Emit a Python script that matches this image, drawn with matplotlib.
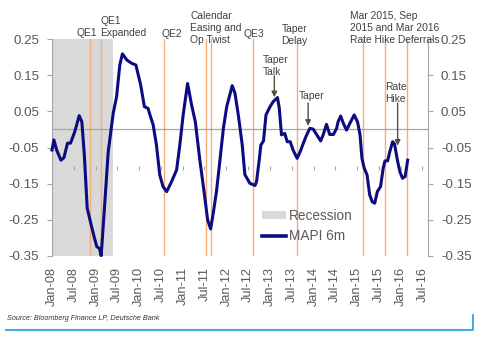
import matplotlib
matplotlib.use("Agg")
import matplotlib.pyplot as plt
import matplotlib.dates as mdates
from matplotlib.patches import Patch
from matplotlib.lines import Line2D
import pandas as pd

plt.rcParams['font.family'] = ['Liberation Sans', 'DejaVu Sans']

# MAPI 6m series
mapi_dates = [
    "2008-01-01", "2008-01-17", "2008-02-09", "2008-03-16", "2008-04-10", "2008-05-10",
    "2008-06-04", "2008-07-10", "2008-08-16", "2008-09-07", "2008-09-28", "2008-10-22",
    "2008-11-28", "2008-12-19", "2009-01-10", "2009-02-01", "2009-02-16", "2009-03-19",
    "2009-04-16", "2009-05-28", "2009-06-25", "2009-07-22", "2009-08-13", "2009-09-19",
    "2009-10-28", "2009-12-04", "2010-01-13", "2010-02-13", "2010-03-16", "2010-04-01",
    "2010-04-28", "2010-05-25", "2010-06-22", "2010-07-19", "2010-08-19", "2010-09-28",
    "2010-11-10", "2010-12-07", "2011-01-04", "2011-02-10", "2011-03-16", "2011-04-16",
    "2011-05-22", "2011-06-28", "2011-07-28", "2011-08-22", "2011-09-13", "2011-10-10",
    "2011-11-07", "2011-12-07", "2012-01-04", "2012-02-19", "2012-03-13", "2012-04-10",
    "2012-05-13", "2012-06-04", "2012-07-16", "2012-08-28", "2012-09-10", "2012-10-04",
    "2012-10-16", "2012-11-07", "2012-11-28", "2013-01-01", "2013-01-28", "2013-03-04",
    "2013-03-19", "2013-04-07", "2013-05-04", "2013-05-25", "2013-06-19", "2013-07-13",
    "2013-08-16", "2013-09-10", "2013-10-07", "2013-11-04", "2013-12-01", "2013-12-28",
    "2014-01-28", "2014-03-01", "2014-03-22", "2014-04-19", "2014-05-16", "2014-06-16",
    "2014-07-13", "2014-07-25", "2014-08-16", "2014-09-07", "2014-10-04", "2014-11-01",
    "2014-12-07", "2015-01-04", "2015-01-25", "2015-02-10", "2015-03-01", "2015-03-25",
    "2015-04-16", "2015-05-07", "2015-05-28", "2015-06-19", "2015-07-16", "2015-08-07",
    "2015-08-22", "2015-09-13", "2015-10-01", "2015-10-25", "2015-11-10", "2015-12-04",
    "2015-12-25", "2016-01-16", "2016-02-07", "2016-02-28",
]
mapi_values = [
    -0.057, -0.029, -0.057, -0.085, -0.078, -0.038,
    -0.038, -0.006, 0.038, 0.021, -0.071, -0.218,
    -0.269, -0.297, -0.324, -0.329, -0.349, -0.200,
    -0.062, 0.045, 0.090, 0.178, 0.209, 0.192,
    0.183, 0.178, 0.123, 0.063, 0.058, 0.040,
    0.012, -0.043, -0.126, -0.158, -0.172, -0.145,
    -0.112, -0.043, 0.040, 0.127, 0.067, 0.021,
    -0.080, -0.172, -0.250, -0.275, -0.232, -0.172,
    -0.089, 0.003, 0.063, 0.121, 0.100, 0.040,
    -0.043, -0.125, -0.149, -0.155, -0.144, -0.080,
    -0.043, -0.032, 0.040, 0.063, 0.077, 0.088,
    0.060, -0.015, -0.011, -0.034, -0.034, -0.057,
    -0.080, -0.062, -0.038, -0.015, 0.003, 0.001,
    -0.015, -0.032, -0.015, 0.014, -0.014, -0.014,
    0.003, 0.021, 0.037, 0.017, -0.002, 0.017,
    0.040, 0.021, -0.015, -0.080, -0.107, -0.126,
    -0.181, -0.200, -0.204, -0.172, -0.158, -0.107,
    -0.087, -0.087, -0.062, -0.034, -0.040, -0.085,
    -0.117, -0.135, -0.130, -0.085,
]

# Policy event lines
event_dates = ["2008-11-16", "2009-02-16", "2010-07-25", "2011-07-13", "2011-08-22",
               "2012-08-13", "2013-08-16", "2015-02-22", "2015-08-22", "2016-02-19"]

recession = ("2007-12-01", "2009-05-25")

# Labels above the plot: text, left-edge date, top (axes fraction)
top_labels = [
    ("QE1", "2008-07-25", 1.049),
    ("QE1\nExpanded", "2009-02-07", 1.107),
    ("QE2", "2010-07-10", 1.046),
    ("Calendar\nEasing and\nOp Twist", "2011-03-06", 1.129),
    ("QE3", "2012-05-26", 1.045),
    ("Taper\nDelay", "2013-04-07", 1.069),
    ("Mar 2015, Sep\n2015 and Mar 2016\nRate Hike Deferrals", "2014-11-01", 1.129),
]

# Arrow callouts: text, text date, text top value, arrow date, arrow start, arrow end
callouts = [
    ("Taper\nTalk", "2012-11-01", 0.206, "2013-02-06", 0.148, 0.089),
    ("Taper", "2013-09-03", 0.107, "2013-11-16", 0.073, 0.010),
    ("Rate\nHike", "2015-08-22", 0.132, "2015-12-06", 0.073, -0.045),
]

yticks = [0.25, 0.15, 0.05, -0.05, -0.15, -0.25, -0.35]
x_start, x_end = "2008-01-01", "2016-08-19"

W, H = 488, 341
fig = plt.figure(figsize=(W / 100, H / 100), dpi=100)
ax = fig.add_axes([52 / W, 1 - 256 / H, (428.3 - 52) / W, 217 / H])

grey_txt = "#595959"
note_c = "#404040"
spine_c = "#a6a6a6"
note_size = 7.4
note_spacing = 1.27

ax.axvspan(pd.Timestamp(recession[0]), pd.Timestamp(recession[1]),
           color="#d9d9d9", lw=0, zorder=0)
for d in event_dates:
    ax.axvline(pd.Timestamp(d), color="#f4ad78", lw=1.0, zorder=1)

# Zero line
ax.axhline(0, color=spine_c, lw=0.9, zorder=1.5)

ax.plot(pd.to_datetime(mapi_dates), mapi_values, color="#0c0c80", lw=2.2,
        zorder=3, solid_joinstyle="round", clip_on=False)

ax.set_xlim(pd.Timestamp(x_start), pd.Timestamp(x_end))
ax.set_ylim(-0.35, 0.25)

ax.set_yticks(yticks)
ax.yaxis.set_major_formatter(plt.FuncFormatter(lambda v, p: f"{v:.2f}"))
ax.tick_params(axis="y", which="both", left=True, right=True, labelleft=True,
               labelright=True, direction="out", length=3.6, width=0.8,
               color=spine_c, labelsize=9.6, labelcolor=grey_txt, pad=5.5)

xt = pd.date_range("2008-01-01", "2016-07-01", freq="6MS")
ax.set_xticks(xt)
ax.xaxis.set_major_formatter(mdates.DateFormatter("%b-%y"))
ax.tick_params(axis="x", length=0, labelsize=9.2, labelcolor=grey_txt,
               labelrotation=90, pad=8)

for s in ("top", "bottom"):
    ax.spines[s].set_visible(False)
for s in ("left", "right"):
    ax.spines[s].set_color(spine_c)
    ax.spines[s].set_linewidth(0.8)

# Half-year ticks hanging from the zero line
zax = ax.secondary_xaxis(0.25 / 0.6)
zax.set_xticks(xt)
zax.tick_params(axis="x", direction="out", length=3, width=0.8, color=spine_c,
                labelbottom=False, labeltop=False)
for s in zax.spines.values():
    s.set_visible(False)

xtrans = ax.get_xaxis_transform()
for txt, d, y in top_labels:
    ax.text(pd.Timestamp(d), y, txt, transform=xtrans, ha="left", va="top",
            fontsize=note_size, color=note_c, linespacing=note_spacing,
            clip_on=False)

for txt, d, ytop, ad, a0, a1 in callouts:
    ax.text(pd.Timestamp(d), ytop, txt, ha="left", va="top", fontsize=note_size,
            color=note_c, linespacing=note_spacing, zorder=4)
    ax.annotate("", xy=(pd.Timestamp(ad), a1), xytext=(pd.Timestamp(ad), a0),
                arrowprops=dict(arrowstyle="-|>", color="#505040", lw=1.0,
                                mutation_scale=8, shrinkA=0, shrinkB=0),
                zorder=4)

handles = [Patch(facecolor="#d9d9d9", edgecolor="none"),
           Line2D([], [], color="#0c0c80", lw=2.6)]
ax.legend(handles, ["Recession", "MAPI 6m"], loc="center left",
          bbox_to_anchor=(261.7 / W, 1 - 226 / H), bbox_transform=fig.transFigure,
          frameon=False, fontsize=9.8, labelcolor=grey_txt, handlelength=1.79,
          handleheight=0.6, handletextpad=0.24, labelspacing=0.45,
          borderpad=0, borderaxespad=0)

fig.text(6.7 / W, 1 - 319 / H, "Source: Bloomberg Finance LP, Deutsche Bank",
         fontsize=5.2, style="italic", color="#333333", va="center", ha="left")

rule_c = "#2ba6de"
fig.add_artist(Line2D([6 / W, 473 / W, 473 / W],
                      [1 - 330 / H, 1 - 330 / H, 1 - 315 / H],
                      transform=fig.transFigure, color=rule_c, lw=1.3))

fig.savefig("out.png", dpi=100)
